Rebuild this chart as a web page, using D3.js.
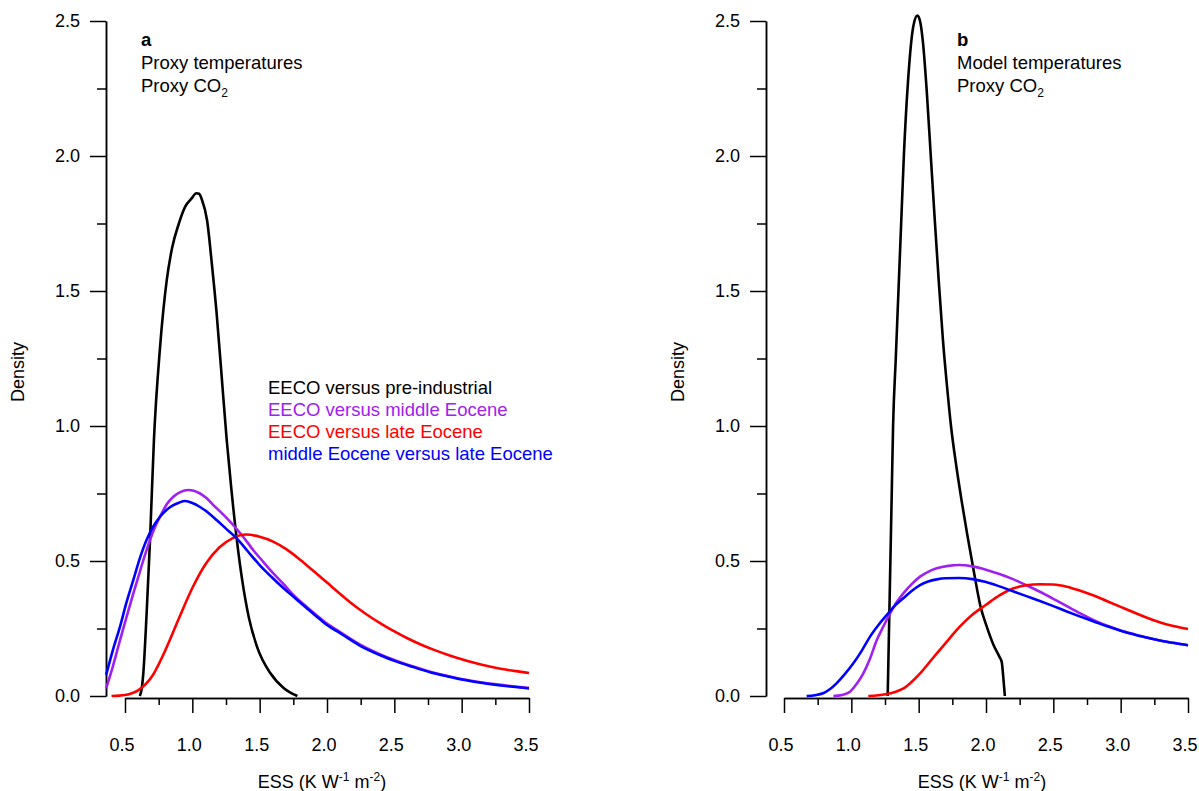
<!DOCTYPE html>
<html>
<head>
<meta charset="utf-8">
<script src="https://cdn.jsdelivr.net/npm/d3@7/dist/d3.min.js"></script>
<style>
  body { margin: 0; background: #fff; }
  svg text { font-family: "Liberation Sans", Arial, Helvetica, sans-serif; }
  .axis path, .axis line { stroke: #000; stroke-width: 1.5; }
  .axis text { font-size: 18px; fill: #000; }
  .curve { fill: none; stroke-width: 2.6; stroke-linejoin: round; }
</style>
</head>
<body>
<svg width="1199" height="791"></svg>
<script>
// ---------------- data (ESS value, density) ----------------
var majorTicks = [0, 0.5, 1.0, 1.5, 2.0, 2.5];
var minorTicksY = [0.25, 0.75, 1.25, 1.75, 2.25];
var xMajorTicks = [0.5, 1.0, 1.5, 2.0, 2.5, 3.0, 3.5];
var xMinorTicks = [0.75, 1.25, 1.75, 2.25, 2.75, 3.25];

var seriesNames = ["EECO versus pre-industrial", "EECO versus middle Eocene", "EECO versus late Eocene", "middle Eocene versus late Eocene"];
var seriesColors = ["#000000", "#A020F0", "#FF0000", "#0000FF"];

// panel a : proxy temperatures, proxy CO2
var aPreIndustrial = [[0.61,0],[0.625,0.03],[0.636,0.084],[0.66,0.3],[0.686,0.58],[0.715,0.95],[0.76,1.29],[0.81,1.54],[0.85,1.66],
  [0.90,1.75],[0.95,1.815],[0.99,1.84],[1.03,1.862],[1.05,1.86],[1.07,1.84],[1.11,1.76],[1.145,1.60],[1.18,1.42],[1.22,1.17],
  [1.255,0.95],[1.29,0.765],[1.33,0.58],[1.37,0.43],[1.42,0.29],[1.48,0.183],[1.58,0.084],[1.68,0.029],[1.78,0.0]];
var aMiddle = [[0.36,0.028],[0.41,0.11],[0.463,0.207],[0.51,0.29],[0.562,0.38],[0.61,0.46],[0.66,0.54],[0.71,0.61],[0.76,0.664],
  [0.81,0.71],[0.859,0.738],[0.91,0.755],[0.97,0.763],[1.01,0.76],[1.057,0.75],[1.10,0.735],[1.156,0.707],[1.23,0.672],
  [1.304,0.633],[1.38,0.588],[1.453,0.54],[1.53,0.495],[1.60,0.455],[1.68,0.413],[1.75,0.374],[1.85,0.33],[1.95,0.288],
  [2.0,0.268],[2.1,0.236],[2.25,0.189],[2.4,0.153],[2.5,0.133],[2.64,0.109],[2.765,0.09],[2.89,0.075],[3.01,0.062],
  [3.13,0.052],[3.26,0.043],[3.38,0.036],[3.5,0.030]];
var aLate = [[0.40,0],[0.5,0.004],[0.6,0.022],[0.7,0.072],[0.8,0.17],[0.9,0.287],[1.0,0.40],[1.1,0.49],[1.2,0.55],[1.3,0.585],
  [1.4,0.598],[1.5,0.59],[1.6,0.572],[1.7,0.543],[1.8,0.505],[1.9,0.463],[2.0,0.42],[2.1,0.377],[2.2,0.336],[2.3,0.3],
  [2.4,0.268],[2.5,0.239],[2.6,0.213],[2.7,0.19],[2.8,0.17],[2.9,0.152],[3.0,0.136],[3.1,0.122],[3.2,0.11],[3.3,0.1],
  [3.4,0.092],[3.5,0.085]];
var aMiddleLate = [[0.36,0.078],[0.41,0.17],[0.463,0.257],[0.51,0.345],[0.562,0.43],[0.61,0.51],[0.66,0.578],[0.71,0.628],
  [0.76,0.664],[0.81,0.69],[0.859,0.707],[0.90,0.716],[0.946,0.722],[1.0,0.715],[1.057,0.70],[1.12,0.678],[1.18,0.652],
  [1.25,0.62],[1.33,0.584],[1.41,0.537],[1.50,0.485],[1.59,0.44],[1.676,0.40],[1.75,0.368],[1.85,0.325],[1.95,0.283],
  [2.0,0.263],[2.1,0.232],[2.25,0.185],[2.4,0.15],[2.5,0.13],[2.64,0.107],[2.765,0.088],[2.89,0.073],[3.01,0.06],
  [3.13,0.05],[3.26,0.041],[3.38,0.034],[3.5,0.028]];

// panel b : model temperatures, proxy CO2
var bPreIndustrial = [[1.27,0],[1.28,0.25],[1.29,0.5],[1.30,0.75],[1.31,1.0],[1.33,1.25],[1.35,1.5],[1.37,1.75],[1.39,2.0],
  [1.42,2.27],[1.46,2.48],[1.49,2.52],[1.51,2.50],[1.53,2.43],[1.56,2.24],[1.59,2.00],[1.62,1.76],[1.65,1.53],[1.68,1.32],
  [1.71,1.15],[1.74,1.00],[1.78,0.85],[1.82,0.72],[1.86,0.60],[1.91,0.46],[1.96,0.33],[2.0,0.265],[2.055,0.19],
  [2.1,0.145],[2.117,0.125],[2.13,0.06],[2.14,0.0]];
var bMiddle = [[0.867,0],[0.93,0.004],[0.99,0.016],[1.04,0.045],[1.089,0.084],[1.14,0.14],[1.189,0.207],[1.24,0.26],
  [1.288,0.306],[1.34,0.35],[1.386,0.38],[1.45,0.415],[1.51,0.442],[1.57,0.46],[1.634,0.473],[1.72,0.482],[1.8,0.485],
  [1.9,0.48],[2.0,0.468],[2.1,0.452],[2.2,0.433],[2.3,0.41],[2.4,0.386],[2.5,0.36],[2.6,0.333],[2.7,0.306],[2.8,0.281],
  [2.9,0.26],[3.0,0.243],[3.1,0.229],[3.2,0.216],[3.3,0.205],[3.4,0.196],[3.5,0.188]];
var bLate = [[1.126,0],[1.2,0.003],[1.3,0.011],[1.4,0.032],[1.5,0.078],[1.6,0.137],[1.7,0.196],[1.8,0.254],[1.9,0.302],
  [2.0,0.338],[2.1,0.373],[2.2,0.398],[2.3,0.41],[2.4,0.414],[2.5,0.413],[2.6,0.405],[2.7,0.39],[2.8,0.372],[2.9,0.351],
  [3.0,0.33],[3.1,0.309],[3.2,0.289],[3.3,0.271],[3.4,0.258],[3.5,0.248]];
var bMiddleLate = [[0.668,0],[0.73,0.003],[0.79,0.01],[0.84,0.025],[0.89,0.047],[0.95,0.08],[1.015,0.121],[1.08,0.17],
  [1.139,0.22],[1.2,0.262],[1.263,0.30],[1.32,0.333],[1.386,0.362],[1.45,0.39],[1.51,0.411],[1.57,0.424],[1.634,0.432],
  [1.70,0.436],[1.8,0.437],[1.9,0.433],[2.0,0.422],[2.1,0.406],[2.2,0.388],[2.3,0.37],[2.4,0.352],[2.5,0.333],[2.6,0.313],
  [2.7,0.294],[2.8,0.276],[2.9,0.258],[3.0,0.242],[3.1,0.228],[3.2,0.216],[3.3,0.205],[3.4,0.196],[3.5,0.188]];

var svg = d3.select('svg');

// shared y scale (both panels use the same density range)
var yScale = d3.scaleLinear().domain([0, 2.5]).range([696, 21]);

function drawPanel(opts) {
    var xScale = d3.scaleLinear().domain([0.5, 3.5]).range([opts.x0, opts.x0 + 404]);
    var g = svg.append('g');

    /////////////////////////// Y AXIS ///////////////////////////
    g.append('g')
        .attr('class', 'y axis')
        .attr('transform', 'translate(' + opts.yAxisX + ',0)')
        .call(d3.axisLeft(yScale).tickValues(majorTicks).tickSize(16).tickSizeOuter(0)
            .tickPadding(10).tickFormat(d3.format('.1f')));
    g.append('g')
        .attr('class', 'y axis')
        .attr('transform', 'translate(' + opts.yAxisX + ',0)')
        .call(d3.axisLeft(yScale).tickValues(minorTicksY).tickSize(9).tickSizeOuter(0).tickFormat(''));

    /////////////////////////// X AXIS ///////////////////////////
    g.append('g')
        .attr('class', 'x axis')
        .attr('transform', 'translate(0,698)')
        .call(d3.axisBottom(xScale).tickValues(xMajorTicks).tickSize(15).tickSizeOuter(0)
            .tickPadding(25).tickFormat(d3.format('.1f')))
        .call(function(ax) { ax.selectAll('.tick text').attr('dx', -3.5); });
    g.append('g')
        .attr('class', 'x axis')
        .attr('transform', 'translate(0,698)')
        .call(d3.axisBottom(xScale).tickValues(xMinorTicks).tickSize(7).tickSizeOuter(0).tickFormat(''));

    // axis titles
    var xt = g.append('text')
        .attr('x', opts.xTitleX).attr('y', 788)
        .attr('text-anchor', 'middle')
        .style('font-size', '18px');
    xt.append('tspan').text('ESS (K W');
    xt.append('tspan').attr('dy', -7).style('font-size', '12px').text('-1');
    xt.append('tspan').attr('dy', 7).text(' m');
    xt.append('tspan').attr('dy', -7).style('font-size', '12px').text('-2');
    xt.append('tspan').attr('dy', 7).text(')');

    g.append('text')
        .attr('transform', 'translate(' + opts.yTitleX + ',372) rotate(-90)')
        .attr('text-anchor', 'middle')
        .style('font-size', '18px')
        .text('Density');

    /////////////////////////// CURVES ///////////////////////////
    var line = d3.line()
        .x(function(d) { return xScale(d[0]); })
        .y(function(d) { return yScale(d[1]); })
        .curve(d3.curveMonotoneX);

    g.selectAll('.curve')
        .data(opts.series)
        .enter()
        .append('path')
        .attr('class', 'curve')
        .attr('stroke', function(d, i) { return seriesColors[i]; })
        .attr('d', line);

    // panel label
    var lab = g.append('text').attr('x', opts.labelX).attr('y', 46).style('font-size', '18.5px');
    lab.append('tspan').style('font-weight', 'bold').text(opts.letter);
    g.append('text').attr('x', opts.labelX).attr('y', 69).style('font-size', '18.5px').text(opts.line1);
    var co2 = g.append('text').attr('x', opts.labelX).attr('y', 92).style('font-size', '18.5px');
    co2.append('tspan').text('Proxy CO');
    co2.append('tspan').attr('dy', 5).style('font-size', '12px').text('2');
}

drawPanel({ x0: 125, yAxisX: 106, xTitleX: 322, yTitleX: 24, labelX: 141, letter: 'a',
    line1: 'Proxy temperatures', series: [aPreIndustrial, aMiddle, aLate, aMiddleLate] });
drawPanel({ x0: 784, yAxisX: 766, xTitleX: 982, yTitleX: 684, labelX: 957, letter: 'b',
    line1: 'Model temperatures', series: [bPreIndustrial, bMiddle, bLate, bMiddleLate] });

/////////////////////////// LEGEND ///////////////////////////
svg.append('g').selectAll('text')
    .data(seriesNames)
    .enter()
    .append('text')
    .attr('x', 268)
    .attr('y', function(d, i) { return 394 + i * 22; })
    .style('font-size', '18.5px')
    .attr('fill', function(d, i) { return seriesColors[i]; })
    .text(function(d) { return d; });
</script>
</body>
</html>
